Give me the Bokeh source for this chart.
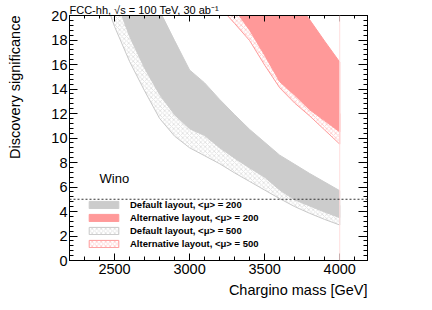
from bokeh.plotting import figure
from bokeh.models import (Range1d, LinearAxis, SingleIntervalTicker, Label, Span,
                          Legend, LegendItem, Title, CustomJSTickFormatter)
from bokeh.embed import file_html
from bokeh.resources import INLINE

# ---------------- data ----------------
mass_default = [2400, 2500, 2600, 2700, 2800, 2900, 3000, 3100, 3200, 3300,
                3400, 3500, 3600, 3700, 3800, 3900, 4000]
default_200_high = [30.0, 27.8, 25.3, 22.85, 20.4, 17.95, 15.55, 14.5, 13.15, 11.9,
                    10.7, 9.65, 8.6, 7.85, 7.1, 6.4, 5.7]
default_200_low = [25.0, 21.6, 18.3, 15.7, 13.55, 11.9, 10.75, 10.2, 9.2, 8.35,
                   7.55, 6.8, 5.75, 4.95, 4.45, 3.95, 3.5]
default_500_high = [27.0, 23.5, 20.0, 17.3, 15.2, 13.5, 12.3, 11.7, 10.7, 9.8,
                    8.9, 8.1, 7.1, 6.2, 5.6, 5.0, 4.5]
default_500_low = [22.5, 19.1, 16.25, 13.85, 11.6, 10.15, 9.2, 8.55, 7.9, 7.15,
                   6.45, 5.75, 5.05, 4.4, 3.85, 3.35, 2.9]

mass_alt = [3200, 3300, 3400, 3500, 3600, 3700, 3800, 3900, 4000]
alt_200_high = [30.0, 28.3, 26.6, 24.9, 23.1, 21.35, 19.65, 17.9, 16.2]
alt_200_low = [22.5, 20.5, 18.8, 16.75, 14.6, 13.5, 12.3, 11.4, 10.5]
alt_500_high = [23.5, 22.3, 20.3, 18.4, 16.2, 15.0, 13.8, 12.9, 12.0]
alt_500_low = [20.7, 19.35, 17.95, 15.95, 14.1, 12.85, 11.8, 10.65, 9.5]

discovery_threshold = 5
x_range = (2200, 4185)
y_range = (0, 20)
labels = ["Default layout, <μ> = 200", "Alternative layout, <μ> = 200",
          "Default layout, <μ> = 500", "Alternative layout, <μ> = 500"]
y_title = "Discovery significance"

FONT = "Liberation Sans"


def band(xs, lo, hi):
    return list(xs) + list(reversed(xs)), list(lo) + list(reversed(hi))


p = figure(width=432, height=310, output_backend="svg", toolbar_location=None,
           x_range=Range1d(*x_range), y_range=Range1d(*y_range),
           min_border_left=69, min_border_right=65, min_border_top=15,
           min_border_bottom=50)
p.background_fill_color = "white"
p.border_fill_color = "white"
p.outline_line_color = "black"
p.outline_line_width = 1
p.grid.visible = False

xt = SingleIntervalTicker(interval=500, num_minor_ticks=5)
yt = SingleIntervalTicker(interval=2, num_minor_ticks=5)
p.xaxis.ticker = xt
p.yaxis.ticker = yt

for ax in (p.xaxis[0], p.yaxis[0]):
    ax.axis_line_color = "black"
    ax.major_tick_line_color = "black"
    ax.minor_tick_line_color = "black"
    ax.major_tick_out = 0
    ax.minor_tick_out = 0
    ax.major_label_text_font = FONT
    ax.major_label_text_font_size = "14.5px"
    ax.major_label_text_color = "black"
p.xaxis.major_tick_in = 7
p.xaxis.minor_tick_in = 4
p.xaxis.major_label_standoff = 3
p.yaxis.major_tick_in = 8
p.yaxis.minor_tick_in = 4
p.yaxis.major_label_standoff = 2

blank = CustomJSTickFormatter(code="return ''")
top_ax = LinearAxis(ticker=xt, formatter=blank, major_label_standoff=0,
                    major_tick_in=6, minor_tick_in=3, major_tick_out=0, minor_tick_out=0,
                    axis_line_color="black")
right_ax = LinearAxis(ticker=yt, formatter=blank, major_label_standoff=0,
                      major_tick_in=9, minor_tick_in=4, major_tick_out=0, minor_tick_out=0,
                      axis_line_color="black")
p.add_layout(top_ax, "above")
p.add_layout(right_ax, "right")

# invisible spacer axis (its hidden outward ticks take up room) that pushes the
# y title outward, then the y title aligned to the top end
spacer_ax = LinearAxis(ticker=yt, formatter=blank, major_label_standoff=0,
                       major_tick_in=0, minor_tick_in=0, major_tick_out=24,
                       minor_tick_out=0, axis_line_alpha=0, major_tick_line_alpha=0,
                       minor_tick_line_alpha=0)
p.add_layout(spacer_ax, "left")
p.add_layout(Title(text=y_title, align="right", standoff=0, vertical_align="top",
                   text_font=FONT, text_font_size="14.5px",
                   text_font_style="normal", text_color="black"), "left")

# ---------------- bands ----------------
bx, by = band(mass_default, default_500_low, default_500_high)
r_d500 = p.patch(bx, by, fill_alpha=0, line_color="#c8c8c8", line_width=1,
                 hatch_pattern="diagonal_cross", hatch_color="#d2d2d2",
                 hatch_scale=4.5, hatch_weight=0.6)
bx, by = band(mass_default, default_200_low, default_200_high)
r_d200 = p.patch(bx, by, fill_color="#cccccc", line_color="#cccccc", line_width=1)

bx, by = band(mass_alt, alt_500_low, alt_500_high)
r_a500 = p.patch(bx, by, fill_alpha=0, line_color="#ff9a9a", line_width=1,
                 hatch_pattern="diagonal_cross", hatch_color="#ffb4b4",
                 hatch_scale=4.5, hatch_weight=0.6)
bx, by = band(mass_alt, alt_200_low, alt_200_high)
r_a200 = p.patch(bx, by, fill_color="#ff9999", line_color="#ff9999", line_width=1)

p.add_layout(Span(location=mass_alt[-1], dimension="height", line_color="#ffdede",
                  line_width=1))
p.add_layout(Span(location=discovery_threshold, dimension="width", line_color="#333333",
                  line_width=1, line_dash="2 2"))

legend = Legend(items=[LegendItem(label=labels[0], renderers=[r_d200]),
                       LegendItem(label=labels[1], renderers=[r_a200]),
                       LegendItem(label=labels[2], renderers=[r_d500]),
                       LegendItem(label=labels[3], renderers=[r_a500])],
                location=(16, 11), padding=0, margin=0, spacing=2,
                glyph_width=37, glyph_height=9, label_height=10, label_standoff=8,
                label_text_font=FONT, label_text_font_size="9.5px",
                label_text_font_style="bold", label_text_color="black",
                border_line_alpha=0, background_fill_alpha=0)
p.add_layout(legend, "center")

# ---------------- texts ----------------
p.add_layout(Label(x=2400, y=6.7, text="Wino", text_font=FONT, text_font_size="13px",
                   text_baseline="alphabetic", text_color="black"))

p.add_layout(Title(text="FCC-hh, √s = 100 TeV, 30 ab⁻¹", align="left", standoff=0,
                   text_font=FONT, text_font_size="11px", text_font_style="normal",
                   text_color="black"), "above")
p.add_layout(Title(text="Chargino mass [GeV]", align="right", standoff=7,
                   text_font=FONT, text_font_size="14.5px", text_font_style="normal",
                   text_color="black"), "below")

open("out.html", "w").write(file_html(p, INLINE))
